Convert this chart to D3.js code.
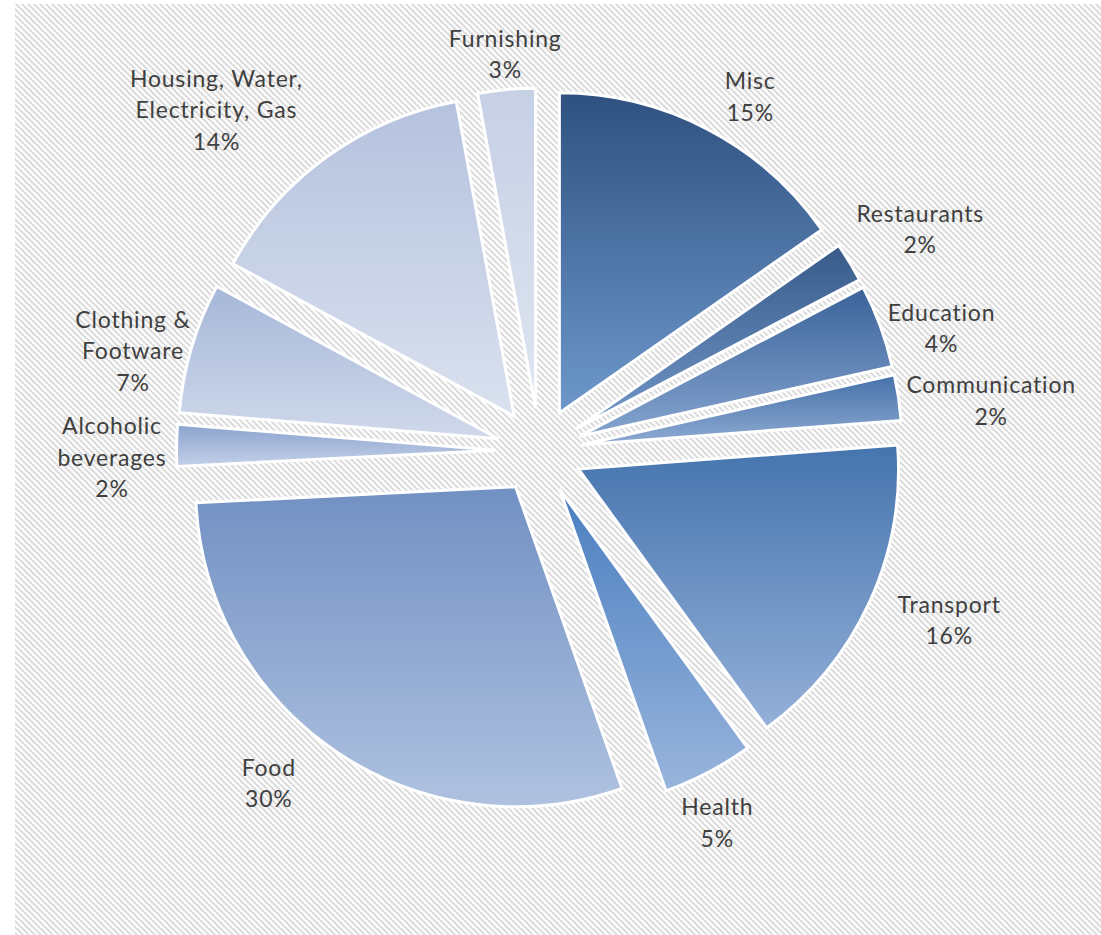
<!DOCTYPE html>
<html>
<head>
<meta charset="utf-8">
<script src="https://cdn.jsdelivr.net/npm/d3@7/dist/d3.min.js"></script>
<style>
  html, body { margin: 0; padding: 0; background: #ffffff; }
  svg { display: block; }
</style>
</head>
<body>
<svg id="chart" width="1101" height="935"></svg>
<script>
// Household expenditure shares (%), clockwise from 12 o'clock
const categories = [
  "Misc", "Restaurants", "Education", "Communication", "Transport", "Health",
  "Food", "Alcoholic beverages", "Clothing & Footware",
  "Housing, Water, Electricity, Gas", "Furnishing"
];
const shares = [15.3, 2.0, 4.2, 2.3, 16.2, 4.6, 29.6, 2.1, 6.6, 14.2, 2.9];

// Gradient stops per slice (top colour, bottom colour)
const gradTop    = ["#2e5180", "#375a89", "#3b639a", "#4571a9", "#4574ae", "#4a7ec0",
                    "#7190c3", "#8ba3cf", "#a6b7d8", "#b5c2de", "#c6d0e5"];
const gradBottom = ["#6e98cb", "#7399c8", "#85a4cf", "#8fabd3", "#94b0d8", "#99b5dc",
                    "#afc2e0", "#c3d0e8", "#d0d9eb", "#dae1ef", "#dfe5f1"];

// Label placement around the pie centre: [angle in degrees clockwise from top, distance]
const labelPlacement = [
  [30.7, 412], [59.8, 440], [73.0, 420], [83.7, 454], [112.5, 443], [154.5, 412],
  [219.2, 429], [269.1, 428], [283.8, 419], [316.5, 470], [355.0, 398]
];

const W = 1101, H = 935;
const cx = 539.5, cy = 451;
const radius = 320;
const explode = 43;
const fontSize = 23, lineH = 31.5, tracking = 0.8;

const svg = d3.select("#chart");
const defs = svg.append("defs");

// Diagonal hatch used as the chart area background
const hatch = defs.append("pattern")
  .attr("id", "hatch")
  .attr("patternUnits", "userSpaceOnUse")
  .attr("width", 6).attr("height", 6);
hatch.append("rect").attr("width", 6).attr("height", 6).attr("fill", "#ffffff");
hatch.append("path")
  .attr("d", "M-1,-1 L7,7 M-4,2 L2,8 M4,-2 L8,2")
  .attr("stroke", "#dcdcdc")
  .attr("stroke-width", 2.1);

svg.append("rect")
  .attr("x", 15).attr("y", 4)
  .attr("width", W - 15).attr("height", H - 4)
  .attr("fill", "url(#hatch)");

// One vertical gradient per slice, spanning that slice's own bounding box
categories.forEach((c, i) => {
  const g = defs.append("linearGradient")
    .attr("id", "grad" + i)
    .attr("x1", 0).attr("y1", 0).attr("x2", 0).attr("y2", 1);
  g.append("stop").attr("offset", "0%").attr("stop-color", gradTop[i]);
  g.append("stop").attr("offset", "100%").attr("stop-color", gradBottom[i]);
});

const rows = categories.map((c, i) => ({ name: c, value: shares[i], idx: i }));
const total = d3.sum(shares);

const pie = d3.pie()
  .sort(null)
  .value(d => d.value)
  .startAngle(0)
  .endAngle(2 * Math.PI);

const arc = d3.arc().innerRadius(0).outerRadius(radius);
const arcs = pie(rows);

const root = svg.append("g").attr("transform", `translate(${cx},${cy})`);

// Exploded slices
root.selectAll("path.slice")
  .data(arcs)
  .join("path")
  .attr("class", "slice")
  .attr("transform", d => {
    const mid = (d.startAngle + d.endAngle) / 2;
    return `translate(${Math.sin(mid) * explode},${-Math.cos(mid) * explode})`;
  })
  .attr("d", arc)
  .attr("fill", d => `url(#grad${d.data.idx})`)
  .attr("stroke", "#ffffff")
  .attr("stroke-width", 3)
  .attr("stroke-linejoin", "miter");

// Data labels: category name (wrapped) and percentage
const fmtPct = d3.format(".0%");
const labelFont = "Lato, 'Open Sans', sans-serif";

const measurer = svg.append("text")
  .attr("font-family", labelFont)
  .attr("font-size", fontSize)
  .attr("letter-spacing", tracking)
  .attr("visibility", "hidden");

function textWidth(s) {
  measurer.text(s);
  return measurer.node().getComputedTextLength();
}

function wrap(s, maxW) {
  const words = s.split(" ");
  const lines = [];
  let cur = "";
  words.forEach(w => {
    const test = cur ? cur + " " + w : w;
    if (cur && textWidth(test) > maxW) {
      lines.push(cur);
      cur = w;
    } else {
      cur = test;
    }
  });
  if (cur) lines.push(cur);
  return lines;
}

const labels = root.append("g").attr("class", "labels");
arcs.forEach(d => {
  const i = d.data.idx;
  const [angDeg, dist] = labelPlacement[i];
  const a = angDeg * Math.PI / 180;
  const lx = Math.sin(a) * dist;
  const ly = -Math.cos(a) * dist;
  const lines = wrap(d.data.name, 190).concat([fmtPct(d.data.value / total)]);
  const firstBase = ly - (lines.length - 1) * lineH / 2 + fontSize * 0.35;
  const t = labels.append("text")
    .attr("font-family", labelFont)
    .attr("font-size", fontSize)
    .attr("letter-spacing", tracking)
    .attr("fill", "#404040")
    .attr("text-anchor", "middle");
  lines.forEach((ln, k) => {
    t.append("tspan")
      .attr("x", lx + tracking / 2)
      .attr("y", firstBase + k * lineH)
      .text(ln);
  });
});

measurer.remove();
</script>
</body>
</html>
